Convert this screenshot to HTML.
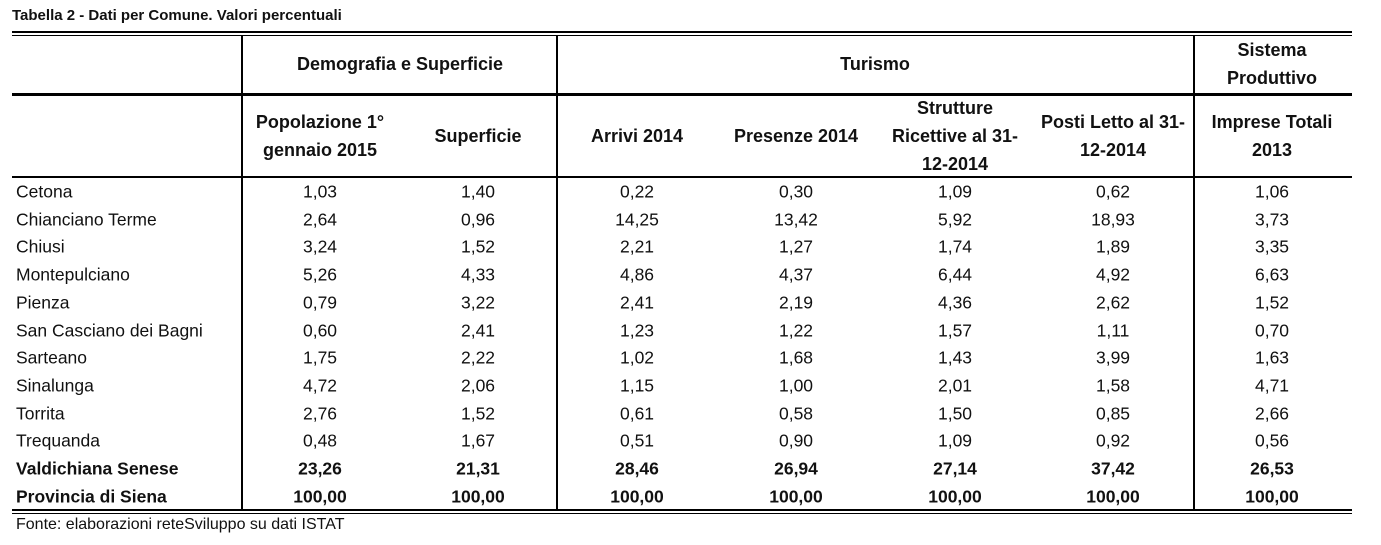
<!DOCTYPE html>
<html><head><meta charset="utf-8"><style>
body{margin:0;width:1381px;height:545px;background:#fff;position:relative;font-family:"Liberation Sans",sans-serif;color:#111;overflow:hidden}
.a{position:absolute}
.h{position:absolute;background:#000;left:12px;width:1340px}
.v{position:absolute;background:#000;width:2px}
.t{position:absolute;font-size:17.5px;text-align:center;white-space:nowrap;transform:translate(-50%,-50%)}
.b{font-weight:bold}
.l{position:absolute;left:16px;font-size:17.5px;transform:translateY(-50%);white-space:nowrap}
.hd{position:absolute;font-size:18px;font-weight:bold;text-align:center;transform:translate(-50%,-50%);line-height:28px;white-space:nowrap}
</style></head><body>
<div class="a b" style="left:12px;top:7px;font-size:15px">Tabella 2 - Dati per Comune. Valori percentuali</div>
<div class="h" style="top:31px;height:2px"></div>
<div class="h" style="top:35px;height:1px"></div>
<div class="h" style="top:93px;height:3px"></div>
<div class="h" style="top:176px;height:2px"></div>
<div class="h" style="top:509px;height:2px"></div>
<div class="h" style="top:513px;height:1px"></div>
<div class="v" style="left:241px;top:36px;height:473px"></div>
<div class="v" style="left:556px;top:36px;height:473px"></div>
<div class="v" style="left:1193px;top:36px;height:473px"></div>
<div class="hd" style="left:400px;top:64px">Demografia e Superficie</div>
<div class="hd" style="left:875px;top:64px">Turismo</div>
<div class="hd" style="left:1272px;top:64px">Sistema<br>Produttivo</div>
<div class="hd" style="left:320px;top:136px">Popolazione 1°<br>gennaio 2015</div>
<div class="hd" style="left:478px;top:136px">Superficie</div>
<div class="hd" style="left:637px;top:136px">Arrivi 2014</div>
<div class="hd" style="left:796px;top:136px">Presenze 2014</div>
<div class="hd" style="left:955px;top:136px">Strutture<br>Ricettive al 31-<br>12-2014</div>
<div class="hd" style="left:1113px;top:136px">Posti Letto al 31-<br>12-2014</div>
<div class="hd" style="left:1272px;top:136px">Imprese Totali<br>2013</div>
<div id="rows"></div>
<div class="a" style="left:16px;top:516px;font-size:16px">Fonte: elaborazioni reteSviluppo su dati ISTAT</div>
<script>
var d=[["Cetona","1,03","1,40","0,22","0,30","1,09","0,62","1,06"],
["Chianciano Terme","2,64","0,96","14,25","13,42","5,92","18,93","3,73"],
["Chiusi","3,24","1,52","2,21","1,27","1,74","1,89","3,35"],
["Montepulciano","5,26","4,33","4,86","4,37","6,44","4,92","6,63"],
["Pienza","0,79","3,22","2,41","2,19","4,36","2,62","1,52"],
["San Casciano dei Bagni","0,60","2,41","1,23","1,22","1,57","1,11","0,70"],
["Sarteano","1,75","2,22","1,02","1,68","1,43","3,99","1,63"],
["Sinalunga","4,72","2,06","1,15","1,00","2,01","1,58","4,71"],
["Torrita","2,76","1,52","0,61","0,58","1,50","0,85","2,66"],
["Trequanda","0,48","1,67","0,51","0,90","1,09","0,92","0,56"],
["Valdichiana Senese","23,26","21,31","28,46","26,94","27,14","37,42","26,53"],
["Provincia di Siena","100,00","100,00","100,00","100,00","100,00","100,00","100,00"]];
var xs=[320,478,637,796,955,1113,1272],h="";
d.forEach(function(r,i){var y=192+i*27.7,b=i>9?" b":"";
h+='<div class="l'+b+'" style="top:'+y+'px">'+r[0]+'</div>';
for(var j=1;j<8;j++)h+='<div class="t'+b+'" style="left:'+xs[j-1]+'px;top:'+y+'px">'+r[j]+'</div>';});
document.getElementById("rows").innerHTML=h;
</script>
</body></html>
